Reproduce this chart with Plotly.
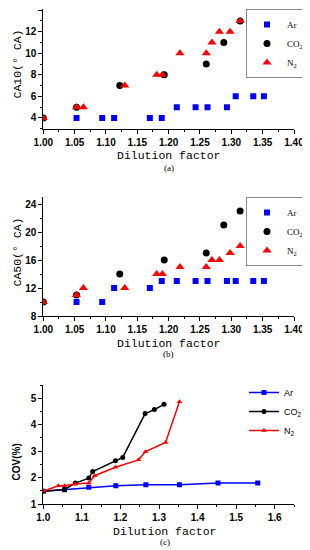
import plotly.graph_objects as go

# ---- data ----
ar_x = [1.053, 1.094, 1.113, 1.170, 1.189, 1.213, 1.243, 1.262, 1.293, 1.307, 1.335, 1.352]
ar_ca10 = [4, 4, 4, 4, 4, 5, 5, 5, 5, 6, 6, 6]
ar_ca50 = [10, 10, 12, 12, 13, 13, 13, 13, 13, 13, 13, 13]

co2_x = [1.0, 1.053, 1.122, 1.193, 1.260, 1.288, 1.314]
co2_ca10 = [4, 5, 7, 8, 9, 11, 13]
co2_ca50 = [10, 11, 14, 16, 17, 21, 23]

n2_x = [1.0, 1.053, 1.064, 1.130, 1.181, 1.190, 1.218, 1.260, 1.269, 1.281, 1.298, 1.314]
n2_ca10 = [4, 5, 5, 7, 8, 8, 10, 10, 11, 12, 12, 13]
n2_ca50 = [10, 11, 12, 12, 14, 14, 15, 15, 16, 16, 17, 18]

cov_ar_x = [1.0, 1.055, 1.118, 1.188, 1.266, 1.353, 1.453, 1.556]
cov_ar = [1.48, 1.54, 1.63, 1.69, 1.73, 1.73, 1.79, 1.79]
cov_co2_x = [1.0, 1.055, 1.083, 1.118, 1.128, 1.187, 1.206, 1.264, 1.288, 1.313]
cov_co2 = [1.48, 1.55, 1.79, 1.98, 2.23, 2.64, 2.76, 4.42, 4.57, 4.77]
cov_n2_x = [1.0, 1.039, 1.055, 1.083, 1.118, 1.133, 1.187, 1.247, 1.265, 1.317, 1.353]
cov_n2 = [1.48, 1.69, 1.69, 1.76, 1.79, 2.07, 2.39, 2.67, 2.98, 3.33, 4.87]

names = ["Ar", "CO<sub>2</sub>", "N<sub>2</sub>"]
BLUE, BLACK, RED = "#0000FF", "#000000", "#FF0000"

# page is 310x550; the html body adds an 8px margin, so the figure is smaller
OFF = 8
W, H = 310 - OFF, 550 - OFF
def py(p):
    return 1 - (p - OFF) / H
def px(p):
    return (p - OFF) / W

fig = go.Figure()

for (xs, ys, nm, col, sym, sz) in [
    (ar_x, ar_ca10, names[0], BLUE, "square", 6),
    (co2_x, co2_ca10, names[1], BLACK, "circle", 7),
    (n2_x, n2_ca10, names[2], RED, "triangle-up", 8),
]:
    fig.add_trace(go.Scatter(x=xs, y=ys, mode="markers", name=nm,
                             marker=dict(color=col, symbol=sym, size=sz),
                             xaxis="x", yaxis="y", legend="legend"))
for (xs, ys, nm, col, sym, sz) in [
    (ar_x, ar_ca50, names[0], BLUE, "square", 6),
    (co2_x, co2_ca50, names[1], BLACK, "circle", 7),
    (n2_x, n2_ca50, names[2], RED, "triangle-up", 8),
]:
    fig.add_trace(go.Scatter(x=xs, y=ys, mode="markers", name=nm,
                             marker=dict(color=col, symbol=sym, size=sz),
                             xaxis="x2", yaxis="y2", legend="legend2"))
for (xs, ys, nm, col, sym) in [
    (cov_ar_x, cov_ar, names[0], BLUE, "square"),
    (cov_co2_x, cov_co2, names[1], BLACK, "circle"),
    (cov_n2_x, cov_n2, names[2], RED, "triangle-up"),
]:
    fig.add_trace(go.Scatter(x=xs, y=ys, mode="lines+markers", name=nm,
                             line=dict(color=col, width=1.5),
                             marker=dict(color=col, symbol=sym, size=5),
                             xaxis="x3", yaxis="y3", legend="legend3"))

tickfont = dict(family="Arial, Liberation Sans", size=10, color="black", weight="bold")
axcommon = dict(showline=True, linecolor="black", linewidth=1, ticks="outside",
                ticklen=4, tickcolor="black", showgrid=False, zeroline=False,
                tickfont=tickfont, mirror=False, automargin=False, tick0=0)

def minor(d):
    return dict(ticks="outside", ticklen=2, tickcolor="black", showgrid=False, dtick=d, tick0=0)

legfont_serif = dict(family="Liberation Serif, Times New Roman", size=9, color="black")
fig.update_layout(
    template="none",
    width=W, height=H, margin=dict(l=0, r=0, t=0, b=0, pad=0, autoexpand=False),
    paper_bgcolor="white", plot_bgcolor="white",
    xaxis=dict(domain=[px(43.3), px(294)], range=[1.0, 1.40], dtick=0.05,
               tickformat=".2f", anchor="y", minor=minor(0.025), **axcommon),
    yaxis=dict(domain=[py(128.7), py(8.5)], range=[3, 14.15], dtick=2,
               anchor="x", minor=minor(1), **axcommon),
    xaxis2=dict(domain=[px(43.3), px(294)], range=[1.0, 1.40], dtick=0.05,
                tickformat=".2f", anchor="y2", minor=minor(0.025), **axcommon),
    yaxis2=dict(domain=[py(316), py(197)], range=[8, 25], dtick=4,
                anchor="x2", minor=minor(2), **axcommon),
    xaxis3=dict(domain=[px(43.3), px(294)], range=[1.0, 1.65], dtick=0.1,
                tickformat=".1f", anchor="y3", minor=minor(0.05), **axcommon),
    yaxis3=dict(domain=[py(504), py(385)], range=[1, 5.5], dtick=1,
                anchor="x3", minor=minor(0.5), **axcommon),
    legend=dict(x=px(309), y=py(9), xanchor="right", yanchor="top",
                bordercolor="#888888", borderwidth=1, bgcolor="rgba(255,255,255,0)",
                font=legfont_serif, itemwidth=30, tracegroupgap=0),
    legend2=dict(x=px(309), y=py(197), xanchor="right", yanchor="top",
                 bordercolor="#888888", borderwidth=1, bgcolor="rgba(255,255,255,0)",
                 font=legfont_serif, itemwidth=30, tracegroupgap=0),
    legend3=dict(x=px(244), y=py(378), xanchor="left", yanchor="top",
                 borderwidth=0, bgcolor="rgba(0,0,0,0)",
                 font=dict(family="Arial, Liberation Sans", size=9, color="black"),
                 itemwidth=30, tracegroupgap=0),
    showlegend=True,
)

mono = dict(family="Liberation Mono, DejaVu Sans Mono", size=11.5, color="black")
serif_small = dict(family="Liberation Serif", size=9, color="black")
ann = [
    dict(text="CA10(° CA)", x=0, y=py(64), textangle=-90, font=mono, xanchor="left"),
    dict(text="Dilution factor", x=px(169), y=py(155), font=mono),
    dict(text="(a)", x=px(169), y=py(168), font=serif_small),
    dict(text="CA50(° CA)", x=0, y=py(252), textangle=-90, font=mono, xanchor="left"),
    dict(text="Dilution factor", x=px(169), y=py(343), font=mono),
    dict(text="(b)", x=px(169), y=py(354), font=serif_small),
    dict(text="<b>COV(%)</b>", x=0, y=py(462), textangle=-90, xanchor="left",
         font=dict(family="Arial, Liberation Sans", size=10, color="black")),
    dict(text="Dilution factor", x=px(165), y=py(531), font=mono),
    dict(text="(c)", x=px(165), y=py(542), font=serif_small),
]
for a in ann:
    a.setdefault("xanchor", "center")
    a.update(xref="paper", yref="paper", showarrow=False, yanchor="middle")
fig.update_layout(annotations=ann)

fig.write_html("out.html")
